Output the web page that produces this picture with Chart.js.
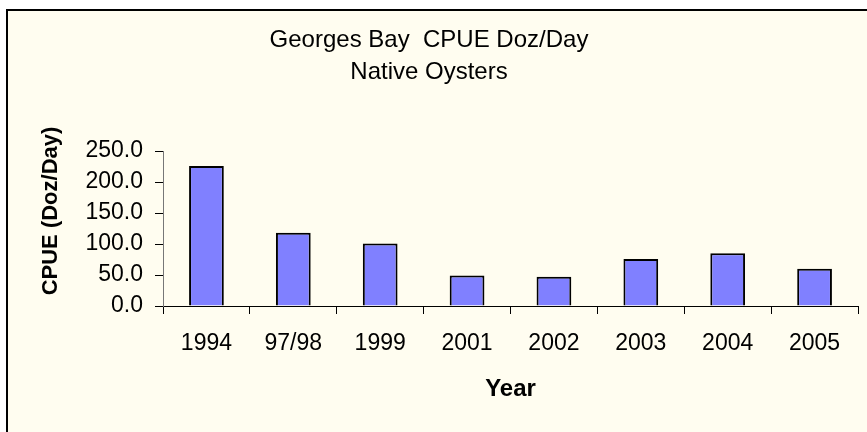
<!DOCTYPE html>
<html lang="en">
<head>
  <meta charset="UTF-8" />
  <title>Georges Bay CPUE</title>
  <script src="https://cdn.jsdelivr.net/npm/chart.js"></script>
  <style>
    html, body { margin: 0; padding: 0; background: #fff; }
    .chart-box { width: 867px; height: 432px; position: relative; }
  </style>
</head>
<body>

  <div class="chart-box">
    <canvas id="cpueChart"></canvas>
  </div>

  <script>
    const years = ['1994', '97/98', '1999', '2001', '2002', '2003', '2004', '2005'];
    const cpue = [226, 118, 101, 49, 47, 76, 85, 60];
    const titleLines = ['Georges Bay  CPUE Doz/Day', 'Native Oysters'];
    const yTitle = 'CPUE (Doz/Day)';
    const xTitle = 'Year';

    const fontFamily = '"Liberation Sans", Arial, sans-serif';

    // cream panel with the heavy top/left frame, plus the y title placed like Excel does
    const frame = {
      id: 'frame',
      beforeDraw(chart) {
        const ctx = chart.ctx;
        ctx.save();
        ctx.fillStyle = '#fff';
        ctx.fillRect(0, 0, chart.width, chart.height);
        ctx.fillStyle = '#FFFDF0';
        ctx.fillRect(6, 9, chart.width - 6, chart.height - 9);
        ctx.strokeStyle = '#000';
        ctx.lineWidth = 2;
        ctx.beginPath();
        ctx.moveTo(7, chart.height);
        ctx.lineTo(7, 10);
        ctx.lineTo(chart.width, 10);
        ctx.stroke();
        ctx.restore();
      },
      afterDraw(chart) {
        const ctx = chart.ctx;
        ctx.save();
        ctx.translate(51, 211);
        ctx.rotate(-Math.PI / 2);
        ctx.font = 'bold 22px ' + fontFamily;
        ctx.fillStyle = '#000';
        ctx.textAlign = 'center';
        ctx.textBaseline = 'middle';
        ctx.fillText(yTitle, 0, 0);
        ctx.restore();
      }
    };

    const ctx = document.getElementById('cpueChart').getContext('2d');
    new Chart(ctx, {
      type: 'bar',
      data: {
        labels: years,
        datasets: [{
          label: 'CPUE',
          data: cpue,
          backgroundColor: '#8080FF',
          borderColor: '#000',
          borderWidth: 2,
          categoryPercentage: 1,
          barPercentage: 0.4
        }]
      },
      options: {
        responsive: true,
        maintainAspectRatio: false,
        animation: false,
        layout: { padding: { left: 0, right: 9, top: 0, bottom: 0 } },
        plugins: {
          legend: { display: false },
          tooltip: { enabled: false },
          title: {
            display: true,
            text: titleLines,
            color: '#000',
            font: { family: fontFamily, size: 24, weight: 'normal', lineHeight: '32px' },
            padding: { top: 24, bottom: 63 }
          }
        },
        scales: {
          x: {
            afterFit(scale) { scale.height = 126; },
            grid: {
              drawOnChartArea: false,
              drawTicks: true,
              tickLength: 8,
              tickColor: '#000',
              offset: true
            },
            border: { color: '#000', width: 1 },
            ticks: {
              color: '#000',
              padding: 16,
              font: { family: fontFamily, size: 23 }
            },
            title: {
              display: true,
              text: xTitle,
              color: '#000',
              font: { family: fontFamily, size: 24, weight: 'bold' },
              padding: { top: 0, bottom: 28.5 }
            }
          },
          y: {
            min: 0,
            max: 250,
            afterFit(scale) { scale.width = 163; },
            grid: {
              drawOnChartArea: false,
              drawTicks: true,
              tickLength: 8,
              tickColor: '#000'
            },
            border: { color: '#777', width: 1 },
            ticks: {
              stepSize: 50,
              color: '#000',
              padding: 12,
              font: { family: fontFamily, size: 23 },
              callback: v => v.toFixed(1)
            }
          }
        }
      },
      plugins: [frame]
    });
  </script>

</body>
</html>
